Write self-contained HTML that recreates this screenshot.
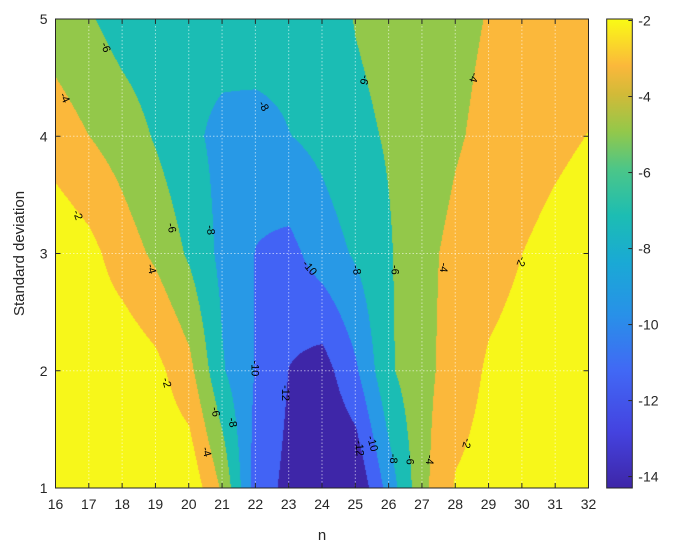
<!DOCTYPE html>
<html><head><meta charset="utf-8">
<style>
html,body{margin:0;padding:0;background:#fff;width:677px;height:554px;overflow:hidden;font-family:"Liberation Sans",sans-serif;}
#wrap{position:relative;width:677px;height:554px;}
#plotcanvas{position:absolute;left:55.5px;top:19px;}
svg{position:absolute;left:0;top:0;}
</style></head>
<body>
<div id="wrap">
<canvas id="plotcanvas" width="533" height="469"></canvas>
<svg id="svg" width="677" height="554">
<defs>
<linearGradient id="parula" x1="0" y1="1" x2="0" y2="0">
<stop offset="0" stop-color="#3e26a8"/>
<stop offset="0.12" stop-color="#4443e0"/>
<stop offset="0.25" stop-color="#4168f5"/>
<stop offset="0.37" stop-color="#2891e8"/>
<stop offset="0.48" stop-color="#1aa9d5"/>
<stop offset="0.58" stop-color="#1cbdb3"/>
<stop offset="0.68" stop-color="#4cc688"/>
<stop offset="0.76" stop-color="#93c84a"/>
<stop offset="0.84" stop-color="#d2ba38"/>
<stop offset="0.90" stop-color="#fbb83b"/>
<stop offset="1" stop-color="#f9fb15"/>
</linearGradient>
</defs>
</svg>
</div>
<script>
// ---- data ----
const nValues = [16,17,18,19,20,21,22,23,24,25,26,27,28,29,30,31,32];
const sdValues = [1,2,3,4,5];
const zSd1 = [0.3,0,0,-0.3,-0.43,-4.33,-11,-12.54,-14.3,-13.9,-9.15,-4.55,-1.8,-1.2,-0.7,-0.3,0];
const zSd2 = [0,-0.6,-0.5,-1.4,-3.39,-7.8,-10.1,-12.05,-12.9,-10.3,-6.3,-4.6,-3.1,-1.7,-1.2,-0.8,-0.5];
const zSd3 = [-0.5,-1.4,-3.0,-4.4,-6.3,-8.57,-10.07,-10.6,-9.0,-7.75,-6.2,-4.5,-3.5,-2.8,-2.0,-1.4,-0.9];
const zSd4 = [-3.0,-4.0,-4.92,-6.2,-7.6,-8.5,-9.0,-8.05,-7.46,-6.5,-5.8,-5.1,-4.2,-3.5,-2.9,-2.4,-1.95];
const zSd5 = [-5.0,-5.8,-6.88,-7.3,-7.5,-7.15,-6.5,-7.0,-7.0,-5.9,-5.3,-4.9,-4.5,-3.9,-3.5,-3.2,-3.0];
const levels = [-12,-10,-8,-6,-4,-2];
const bandColors = ["#3e26a8","#4263f5","#2899e6","#1bbdb4","#93c84a","#fbb83b","#f7f71a"];
const xTicks = [16,17,18,19,20,21,22,23,24,25,26,27,28,29,30,31,32];
const yTicks = [1,2,3,4,5];
const cbTicks = [-2,-4,-6,-8,-10,-12,-14];
const contourLabelText = ["-6","-4","-2","-4","-6","-8","-8","-10","-8","-6","-4","-6","-4","-2","-10","-12","-2","-6","-8","-4","-10","-12","-8","-6","-4","-2"];
const contourLabelN = [17.52,16.29,16.68,18.9,19.5,20.67,22.26,23.64,25.05,25.29,28.57,26.2,27.67,30.0,22.0,22.92,19.35,20.82,21.33,20.55,25.53,25.14,26.16,26.65,27.25,28.36];
const contourLabelSd = [4.76,4.33,3.33,2.87,3.22,3.2,4.26,2.88,2.86,4.48,4.5,2.86,2.88,2.93,2.02,1.81,1.9,1.65,1.56,1.31,1.38,1.34,1.25,1.24,1.24,1.38];
const contourLabelAngle = [70,65,70,75,80,85,60,50,80,105,105,90,95,110,90,90,75,80,80,75,75,85,90,90,95,105];

// ---- axes ----
const X0=55.5, X1=588.5, Y0=488, Y1=19;
const nMin=16, nMax=32, sdMin=1, sdMax=5;
const cbMin=-14.3, cbMax=-1.96, CBX0=606.7, CBX1=632.3;
function xScale(n){return X0+(n-nMin)/(nMax-nMin)*(X1-X0);}
function yScale(s){return Y0-(s-sdMin)/(sdMax-sdMin)*(Y0-Y1);}
function cbScale(v){return Y0-(v-cbMin)/(cbMax-cbMin)*(Y0-Y1);}
const zGrid=[zSd1,zSd2,zSd3,zSd4,zSd5];

function zAt(n,s){
  let i=Math.min(Math.max(Math.floor(n-nValues[0]),0),nValues.length-2);
  let j=Math.min(Math.max(Math.floor(s-sdValues[0]),0),sdValues.length-2);
  let tx=(n-nValues[i])/(nValues[i+1]-nValues[i]);
  let ty=(s-sdValues[j])/(sdValues[j+1]-sdValues[j]);
  let a=zGrid[j][i],b=zGrid[j][i+1],c=zGrid[j+1][i],d=zGrid[j+1][i+1];
  return a*(1-tx)*(1-ty)+b*tx*(1-ty)+c*(1-tx)*ty+d*tx*ty;
}
function hex(h){return [parseInt(h.substr(1,2),16),parseInt(h.substr(3,2),16),parseInt(h.substr(5,2),16)];}
const rgbBands=bandColors.map(hex);

// fill
const cv=document.getElementById('plotcanvas');
const ctx=cv.getContext('2d');
const W=cv.width,H=cv.height;
const img=ctx.createImageData(W,H);
for(let py=0;py<H;py++){
  const s=sdMax-(py+0.5)/H*(sdMax-sdMin);
  for(let px=0;px<W;px++){
    const n=nMin+(px+0.5)/W*(nMax-nMin);
    const z=zAt(n,s);
    let k=0;
    for(let l=0;l<levels.length;l++){ if(z>=levels[l]) k=l+1; }
    k=Math.min(k,rgbBands.length-1);
    const c=rgbBands[k]; const o=(py*W+px)*4;
    img.data[o]=c[0];img.data[o+1]=c[1];img.data[o+2]=c[2];img.data[o+3]=255;
  }
}
ctx.putImageData(img,0,0);

// ---- svg overlay ----
const NS="http://www.w3.org/2000/svg";
const svg=document.getElementById('svg');
function mk(tag,attrs,parent){const e=document.createElementNS(NS,tag);for(const k in attrs)e.setAttribute(k,attrs[k]);(parent||svg).appendChild(e);return e;}

const grid=mk('g',{});


xTicks.forEach(t=>{ if(t>nMin&&t<nMax){ const l=mk('line',{x1:xScale(t),x2:xScale(t),y1:Y1,y2:Y0,stroke:'#ffffff','stroke-opacity':0.55,'stroke-dasharray':'1.5,2','stroke-width':1},grid);
  
  }});
yTicks.forEach(t=>{ if(t>sdMin&&t<sdMax){ const l=mk('line',{x1:X0,x2:X1,y1:yScale(t),y2:yScale(t),stroke:'#ffffff','stroke-opacity':0.55,'stroke-dasharray':'1.5,2','stroke-width':1},grid);
  
  }});

// contour labels
const lg=mk('g',{});


contourLabelText.forEach((t,i)=>{
  const x=xScale(contourLabelN[i]), y=yScale(contourLabelSd[i]);
  const e=mk('text',{x:x,y:y+4,'font-size':11,'text-anchor':'middle',fill:'#000',transform:`rotate(${contourLabelAngle[i]} ${x} ${y})`},lg);
  e.textContent=t;
  
  
});

// axes box
const box=mk('rect',{x:X0,y:Y1,width:X1-X0,height:Y0-Y1,fill:'none',stroke:'#262626','stroke-width':1});



const xt=mk('g',{});


xTicks.forEach(t=>{
  const x=xScale(t);
  mk('line',{x1:x,x2:x,y1:Y0,y2:Y0-5,stroke:'#262626'},xt);
  mk('line',{x1:x,x2:x,y1:Y1,y2:Y1+5,stroke:'#262626'},xt);
  const e=mk('text',{x:x,y:Y0+21,'font-size':14,'text-anchor':'middle',fill:'#262626'},xt);
  e.textContent=t;
  
  
});
const yt=mk('g',{});


yTicks.forEach(t=>{
  const y=yScale(t);
  mk('line',{x1:X0,x2:X0+5,y1:y,y2:y,stroke:'#262626'},yt);
  mk('line',{x1:X1,x2:X1-5,y1:y,y2:y,stroke:'#262626'},yt);
  const e=mk('text',{x:X0-8,y:y+5,'font-size':14,'text-anchor':'end',fill:'#262626'},yt);
  e.textContent=t;
  
  
});
const xl=mk('text',{x:(X0+X1)/2,y:540,'font-size':15,'text-anchor':'middle',fill:'#262626'});
xl.textContent='n';


const yl=mk('text',{x:24,y:(Y0+Y1)/2,'font-size':15,'text-anchor':'middle',fill:'#262626',transform:`rotate(-90 24 ${(Y0+Y1)/2})`});
yl.textContent='Standard deviation';



// colorbar
const cb=mk('g',{});


mk('rect',{x:CBX0,y:Y1,width:CBX1-CBX0,height:Y0-Y1,fill:'url(#parula)',stroke:'#262626','stroke-width':1},cb);
cbTicks.forEach(t=>{
  const y=cbScale(t);
  mk('line',{x1:CBX1,x2:CBX1-4,y1:y,y2:y,stroke:'#262626'},cb);
  const e=mk('text',{x:CBX1+6,y:y+5,'font-size':14,fill:'#262626'},cb);
  e.textContent=t;
  
  
});
</script>
</body></html>
